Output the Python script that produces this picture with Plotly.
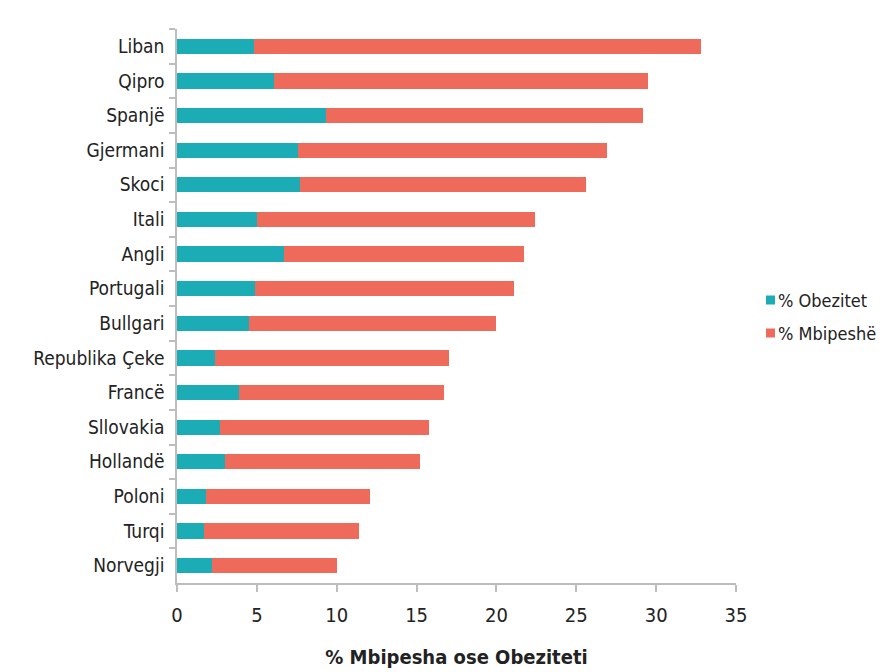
import plotly.graph_objects as go

# Countries, top to bottom
countries = ["Liban", "Qipro", "Spanjë", "Gjermani", "Skoci", "Itali", "Angli",
             "Portugali", "Bullgari", "Republika Çeke", "Francë", "Sllovakia",
             "Hollandë", "Poloni", "Turqi", "Norvegji"]

# Percentage obese
obezitet = [4.8, 6.1, 9.3, 7.6, 7.7, 5.0, 6.7, 4.9, 4.5, 2.4, 3.9, 2.7, 3.0, 1.8, 1.7, 2.2]

# Percentage overweight (stacked after obesity)
mbipeshe = [28.0, 23.4, 19.9, 19.3, 17.9, 17.4, 15.0, 16.2, 15.5, 14.6, 12.8, 13.1, 12.2, 10.3, 9.7, 7.8]

x_ticks = [0, 5, 10, 15, 20, 25, 30, 35]

series_names = ["% Obezitet", "% Mbipeshë"]

TEAL = "#1bacb5"
SALMON = "#ee6a5b"
FONT = "DejaVu Sans Condensed, Liberation Sans Narrow, Roboto, sans-serif"
TEXT = "#222222"
AXIS = "#bdbdbd"

W, H = 885, 672
ML, MR, MT, MB = 177, 149, 29, 89
PW, PH = W - ML - MR, H - MT - MB


def px_x(p):
    return (p - ML) / PW


def px_y(p):
    return (H - MB - p) / PH


fig = go.Figure()
fig.add_trace(go.Bar(
    y=countries, x=obezitet, orientation="h", name=series_names[0],
    marker=dict(color=TEAL, line=dict(width=0)),
))
fig.add_trace(go.Bar(
    y=countries, x=mbipeshe, orientation="h", name=series_names[1],
    marker=dict(color=SALMON, line=dict(width=0)),
))

# Legend drawn to the right of the plot: colour square + label
legend_rows = [(series_names[0], TEAL, 300), (series_names[1], SALMON, 333)]
shapes = []
annotations = []
for name, color, yc in legend_rows:
    shapes.append(dict(
        type="rect", xref="paper", yref="paper",
        x0=px_x(766), x1=px_x(775), y0=px_y(yc + 4.5), y1=px_y(yc - 4.5),
        fillcolor=color, line=dict(width=0),
    ))
    annotations.append(dict(
        xref="paper", yref="paper", x=px_x(776), y=px_y(yc),
        xanchor="left", yanchor="middle", showarrow=False,
        text=name, font=dict(family=FONT, size=18, color=TEXT),
    ))

fig.update_layout(
    width=W, height=H,
    margin=dict(l=ML, r=MR, t=MT, b=MB, autoexpand=False),
    barmode="stack",
    bargap=0.56,
    showlegend=False,
    plot_bgcolor="white",
    paper_bgcolor="white",
    font=dict(family=FONT, size=18, color=TEXT),
    shapes=shapes,
    annotations=annotations,
    xaxis=dict(
        range=[0, 35], tickvals=x_ticks, ticktext=[str(v) for v in x_ticks],
        showgrid=False, zeroline=False,
        showline=True, linecolor=AXIS, linewidth=1.5,
        ticks="outside", ticklen=7, tickcolor=AXIS, tickwidth=1.5,
        tickfont=dict(family=FONT, size=20, color=TEXT),
        ticklabelstandoff=6,
        title=dict(text="<b>% Mbipesha ose Obeziteti</b>",
                   font=dict(family=FONT, size=20, color=TEXT), standoff=24),
    ),
    yaxis=dict(
        autorange="reversed",
        categoryorder="array", categoryarray=countries,
        showgrid=False, zeroline=False,
        showline=True, linecolor=AXIS, linewidth=1.5,
        ticks="outside", ticklen=6, tickcolor=AXIS, tickwidth=1.5,
        tickson="boundaries",
        tickfont=dict(family=FONT, size=19, color=TEXT),
        ticklabelstandoff=7,
    ),
)

fig.write_html("out.html")
